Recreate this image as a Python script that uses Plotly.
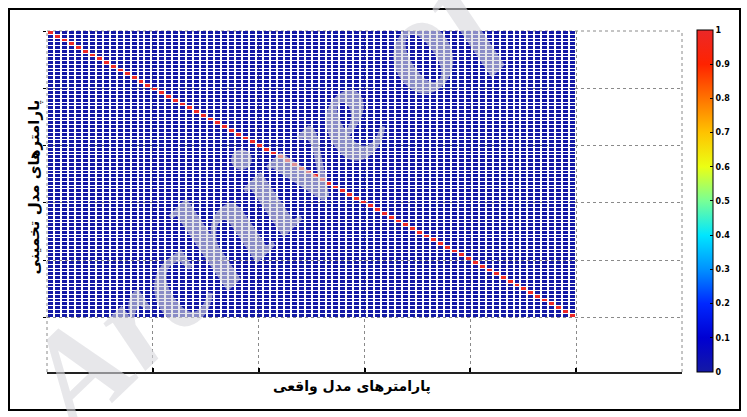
import numpy as np
import plotly.graph_objects as go

# Parameter correlation matrix: true-model vs. estimated-model parameters
n_params = 76
corr = np.eye(n_params)

# Cell edges span 0..5 on both axes
cell = 5.0 / n_params
x_centers = [cell * (i + 0.5) for i in range(n_params)]
y_centers = [cell * (i + 0.5) for i in range(n_params)]

cbar_ticks = [0, 0.1, 0.2, 0.3, 0.4, 0.5, 0.6, 0.7, 0.8, 0.9, 1]
cbar_labels = ["0", "0.1", "0.2", "0.3", "0.4", "0.5", "0.6", "0.7", "0.8", "0.9", "1"]
x_ticks = [0, 1, 2, 3, 4, 5, 6]
y_ticks = [0, 1, 2, 3, 4, 5]

jet = [
    [0.0, "rgb(20,25,165)"],
    [0.1, "rgb(0,0,210)"],
    [0.2, "rgb(0,40,255)"],
    [0.3, "rgb(0,145,255)"],
    [0.4, "rgb(0,230,255)"],
    [0.5, "rgb(120,255,150)"],
    [0.6, "rgb(235,255,20)"],
    [0.7, "rgb(255,195,0)"],
    [0.8, "rgb(255,115,0)"],
    [0.9, "rgb(255,35,0)"],
    [1.0, "rgb(235,40,40)"],
]

W, H = 747, 417
L, R, T, B = 47, 65, 31, 45
pw, ph = W - L - R, H - T - B

fig = go.Figure(
    go.Heatmap(
        z=corr,
        x=x_centers,
        y=y_centers,
        zmin=0,
        zmax=1,
        colorscale=jet,
        xgap=2,
        ygap=1,
        colorbar=dict(
            x=(697 - L) / pw,
            xanchor="left",
            y=1.003,
            yanchor="top",
            lenmode="fraction",
            len=1.003,
            thickness=16,
            thicknessmode="pixels",
            outlinecolor="black",
            outlinewidth=1,
            tickvals=cbar_ticks,
            ticktext=cbar_labels,
            ticks="inside",
            ticklen=3,
            tickcolor="black",
            tickfont=dict(family="DejaVu Sans", size=8, color="black", weight="bold"),
            xpad=0,
            ypad=0,
        ),
    )
)

dotted = dict(color="#8a8a8a", width=1, dash="dot")
fig.update_xaxes(
    range=[0, 6],
    tickvals=x_ticks,
    showticklabels=False,
    ticks="inside",
    ticklen=4,
    tickwidth=2,
    tickcolor="black",
    showline=True,
    linecolor="#222",
    linewidth=2,
    showgrid=True,
    gridcolor="#8a8a8a",
    griddash="dot",
    gridwidth=1,
    zeroline=False,
)
fig.update_yaxes(
    range=[5.95, 0],
    tickvals=y_ticks,
    showticklabels=False,
    ticks="outside",
    ticklen=3,
    tickwidth=1,
    tickcolor="black",
    showline=False,
    showgrid=True,
    gridcolor="#8a8a8a",
    griddash="dot",
    gridwidth=1,
    zeroline=False,
)

shapes = [
    # dotted box edges (left, top, right)
    dict(type="line", xref="x domain", yref="y domain", x0=0, x1=0, y0=0, y1=1, line=dotted, layer="below"),
    dict(type="line", xref="x domain", yref="y domain", x0=0, x1=1, y0=1, y1=1, line=dotted, layer="below"),
    dict(type="line", xref="x domain", yref="y domain", x0=1, x1=1, y0=0, y1=1, line=dotted, layer="below"),
    # outer figure frame
    dict(
        type="rect",
        xref="paper",
        yref="paper",
        x0=(9 - L) / pw,
        x1=(740 - L) / pw,
        y0=(H - B - 410) / ph,
        y1=(H - B - 9) / ph,
        line=dict(color="black", width=2),
        fillcolor="rgba(0,0,0,0)",
    ),
]

annotations = [
    dict(
        text="پارامترهای مدل واقعی",
        xref="paper",
        yref="paper",
        x=(352 - L) / pw,
        y=(H - B - 397) / ph,
        showarrow=False,
        font=dict(family="DejaVu Sans", size=14, color="black", weight="bold"),
    ),
    dict(
        text="پارامترهای مدل تخمینی",
        xref="paper",
        yref="paper",
        x=(22 - L) / pw,
        y=(H - B - 187) / ph,
        textangle=-90,
        showarrow=False,
        font=dict(family="DejaVu Sans", size=15, color="black", weight="bold"),
    ),
    dict(
        text="Archive of SID",
        xref="paper",
        yref="paper",
        x=(350 - L) / pw,
        y=(H - B - 108) / ph,
        xanchor="center",
        yanchor="middle",
        textangle=-44,
        showarrow=False,
        font=dict(family="Liberation Serif", size=138, color="rgba(215,215,220,0.6)",
                  weight="bold", style="italic"),
    ),
]

fig.update_layout(
    width=W,
    height=H,
    margin=dict(l=L, r=R, t=T, b=B, autoexpand=False),
    paper_bgcolor="white",
    plot_bgcolor="white",
    shapes=shapes,
    annotations=annotations,
    showlegend=False,
)

fig.write_html("out.html")
